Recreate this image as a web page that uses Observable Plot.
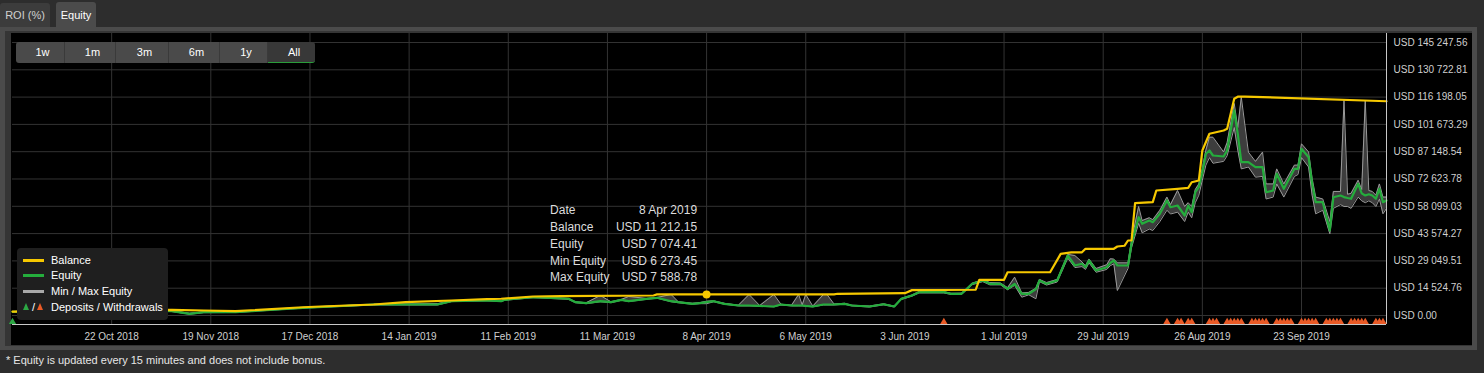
<!DOCTYPE html>
<html><head><meta charset="utf-8">
<script src="https://cdn.jsdelivr.net/npm/d3@7"></script>
<script src="https://cdn.jsdelivr.net/npm/@observablehq/plot@0.6"></script>
<style>
body{margin:0;width:1484px;height:373px;background:#2d2d2d;position:relative;overflow:hidden;font-family:"Liberation Sans",Arial,Helvetica,sans-serif;}
.tab{position:absolute;top:3px;height:24px;font-size:11px;display:flex;align-items:center;justify-content:center;border-radius:3px 3px 0 0;}
#panel{position:absolute;left:0;top:27px;width:1477px;height:323px;background:#4b4b4b;}
#inner{position:absolute;left:5px;top:4px;width:1467px;height:315px;background:#353535;}
#chart{position:absolute;left:11px;top:33px;width:1461px;height:312px;background:#000;}
#buttons{position:absolute;left:16px;top:42px;height:21px;display:flex;}
#buttons div{height:21px;line-height:21px;font-size:11px;color:#fff;background:#4a4a4a;text-align:center;box-sizing:border-box;padding-left:5px;border-right:1px solid #3a3a3a;}
#legend{position:absolute;left:17px;top:248px;width:151px;height:72px;box-sizing:border-box;padding-top:5px;background:#1f1f1f;border-radius:4px;color:#fff;font-size:11px;}
#legend .row{position:relative;}
#legend .sw{position:absolute;left:6px;width:21px;height:3px;}
#legend .lbl{position:absolute;left:34px;}
#tip{position:absolute;color:#dcdcdc;font-size:12px;width:147px;}
#tip .r{display:flex;justify-content:space-between;height:16.75px;line-height:16.75px;}
#footer{position:absolute;left:6px;top:354px;font-size:11px;color:#e6e6e6;}
</style></head><body>
<div class="tab" style="left:0;width:50px;background:#3c3c3c;color:#d0d0d0;">ROI (%)</div>
<div class="tab" style="left:56px;width:40px;top:2px;height:25px;background:#4b4b4b;color:#fff;">Equity</div>
<div id="panel"><div id="inner"></div></div>
<div id="chart"></div>
<div id="buttons"></div>
<div id="legend"></div>
<div id="tip"></div>
<div id="footer">* Equity is updated every 15 minutes and does not include bonus.</div>
<script>
// ---------------- DATA ----------------
const balanceDates = ["2018-09-24","2018-10-15","2018-11-08","2018-11-17","2018-11-26","2018-12-15","2018-12-20","2019-01-04","2019-01-13","2019-01-26","2019-02-05","2019-02-09","2019-02-18","2019-02-26","2019-03-24","2019-03-25","2019-05-14","2019-05-15","2019-06-03","2019-06-05","2019-06-23","2019-06-24","2019-07-01","2019-07-02","2019-07-14","2019-07-17","2019-07-20","2019-07-23","2019-07-24","2019-08-01","2019-08-02","2019-08-04","2019-08-05","2019-08-06","2019-08-07","2019-08-12","2019-08-13","2019-08-19","2019-08-22","2019-08-23","2019-08-25","2019-08-26","2019-08-28","2019-09-01","2019-09-02","2019-09-03","2019-09-04","2019-09-05","2019-09-07","2019-10-17"];
const balanceValues = [2100,2800,3030,2660,2290,4400,4790,5850,7080,7980,8690,8900,10100,10270,10640,11212.15,11212.15,11550,11860,13500,13700,19000,19000,23000,23000,32800,33600,33600,35500,35500,36700,37100,39900,39900,59750,60300,66500,67400,67900,70900,71800,87800,96700,98400,99300,107300,115300,116400,116500,114000];

const equityDates = ["2018-09-24","2018-10-10","2018-10-30","2018-11-08","2018-11-13","2018-11-17","2018-11-26","2018-12-15","2019-01-04","2019-01-22","2019-01-26","2019-02-05","2019-02-09","2019-02-10","2019-02-18","2019-02-28","2019-03-02","2019-03-05","2019-03-09","2019-03-12","2019-03-15","2019-03-17","2019-03-22","2019-03-25","2019-03-29","2019-03-31","2019-04-04","2019-04-06","2019-04-08","2019-04-10","2019-04-13","2019-04-17","2019-04-20","2019-04-23","2019-04-27","2019-04-29","2019-05-02","2019-05-04","2019-05-05","2019-05-06","2019-05-08","2019-05-11","2019-05-12","2019-05-14","2019-05-17","2019-05-19","2019-05-24","2019-05-28","2019-05-31","2019-06-02","2019-06-05","2019-06-07","2019-06-14","2019-06-16","2019-06-19","2019-06-21","2019-06-22","2019-06-25","2019-06-27","2019-06-30","2019-07-02","2019-07-04","2019-07-06","2019-07-08","2019-07-10","2019-07-11","2019-07-13","2019-07-16","2019-07-19","2019-07-21","2019-07-23","2019-07-24","2019-07-25","2019-07-27","2019-07-30","2019-07-31","2019-08-01","2019-08-02","2019-08-05","2019-08-06","2019-08-08","2019-08-09","2019-08-11","2019-08-12","2019-08-14","2019-08-16","2019-08-17","2019-08-19","2019-08-21","2019-08-22","2019-08-23","2019-08-24","2019-08-25","2019-08-26","2019-08-27","2019-08-28","2019-08-29","2019-09-01","2019-09-02","2019-09-04","2019-09-05","2019-09-06","2019-09-08","2019-09-10","2019-09-12","2019-09-13","2019-09-15","2019-09-16","2019-09-18","2019-09-21","2019-09-22","2019-09-23","2019-09-25","2019-09-26","2019-09-27","2019-09-29","2019-10-01","2019-10-02","2019-10-04","2019-10-05","2019-10-06","2019-10-07","2019-10-09","2019-10-10","2019-10-11","2019-10-12","2019-10-13","2019-10-14","2019-10-15","2019-10-16","2019-10-17"];
const equityValues = [2000,2300,2600,2300,900,1770,1770,4100,5850,5850,7630,7980,7630,8350,9740,8900,7080,6540,7610,7080,8350,7610,8890,9420,7610,7080,6220,6540,7074.41,7610,6220,5320,5320,5100,4790,5850,5320,5320,5320,5100,4790,5850,5850,5850,6220,5320,4790,6000,4790,8890,10640,12400,12400,11550,11550,15060,16870,18620,16870,16870,14200,16870,11550,11550,14000,18620,16870,18620,31920,26600,27510,25700,29260,23940,25700,28000,29260,26600,26600,38150,52300,48790,50540,49640,54110,61180,57620,58520,53200,58520,54960,65600,68260,76240,86030,87790,85130,84590,87790,109070,96670,81560,81560,78900,78900,65600,66500,75390,67410,78050,78050,88690,84220,70070,60280,60280,45220,62940,63840,63000,62500,62090,70070,65000,63840,64500,63840,62090,67410,60280,61180];
const minEquityValues = [1800,2100,2400,2100,700,1500,1600,3900,5600,5600,7400,7800,7400,8100,9500,8600,6800,6300,7300,6800,8100,7400,8600,9200,7300,6800,6000,6300,6273.45,7300,6000,5100,5100,4900,4600,5600,5100,5100,5100,4900,4600,5600,5600,5600,6000,5100,4500,5700,4500,8500,10300,12000,12000,11200,11200,14600,16400,18000,16300,16300,13700,16000,9740,11000,8890,18000,16200,17800,30500,25500,26000,24500,28000,23000,24500,26500,27500,13300,25000,36000,49000,44000,46000,45220,50000,56000,54000,55000,50000,55000,52000,60000,64000,72000,80000,84000,81000,82000,85000,100000,88000,78000,79000,73580,74000,62000,63000,70000,63000,74000,75000,84000,79000,64000,54110,56000,43470,57000,59000,58000,58000,57000,63000,61000,60000,61000,60000,58000,62000,54110,57000];
const maxEquityValues = [2100,2500,2800,2500,1200,1900,2000,4300,6000,6300,7900,8200,7900,8500,9900,9100,7300,6800,10640,7300,8600,10100,9100,9600,11170,7300,6500,6800,7588.78,7800,6500,5500,11170,5300,11170,6000,5500,11170,5600,11170,5000,11170,11170,6100,6500,5500,5000,6200,5000,9100,10900,12700,12700,11800,11900,15400,17200,19000,17500,17300,14800,20380,12000,12300,14500,19200,17500,19200,32500,31920,28500,26500,30000,25000,27000,30170,30000,28000,28000,40000,58000,50500,52000,51000,56000,63000,59000,66500,58000,60000,58000,67000,70000,78000,88000,94860,94860,87000,92000,112800,100000,116150,86900,82000,86900,70000,70000,78000,70000,80000,80000,91350,87000,73000,63000,62000,50000,66000,66000,114500,64500,65000,72000,67000,114500,66500,66000,64000,70000,63000,63000];

const depositDates = ["2018-09-24"];
const withdrawalDates = ["2019-06-14","2019-08-16","2019-08-19","2019-08-20","2019-08-22","2019-08-23","2019-08-28","2019-08-29","2019-08-30","2019-09-02","2019-09-03","2019-09-04","2019-09-05","2019-09-06","2019-09-09","2019-09-10","2019-09-11","2019-09-12","2019-09-13","2019-09-16","2019-09-17","2019-09-18","2019-09-19","2019-09-20","2019-09-23","2019-09-24","2019-09-25","2019-09-26","2019-09-27","2019-09-30","2019-10-01","2019-10-02","2019-10-03","2019-10-04","2019-10-07","2019-10-08","2019-10-09","2019-10-10","2019-10-11","2019-10-14","2019-10-15","2019-10-16"];

const xDomain = ["2018-09-24","2019-10-17"];
const xTickDates = ["2018-10-22","2018-11-19","2018-12-17","2019-01-14","2019-02-11","2019-03-11","2019-04-08","2019-05-06","2019-06-03","2019-07-01","2019-07-29","2019-08-26","2019-09-23"];
const yDomain = [-4788, 150035];
const yTickValues = [0,14524.76,29049.51,43574.27,58099.03,72623.78,87148.54,101673.29,116198.05,130722.81,145247.56];

const rangeButtons = ["1w","1m","3m","6m","1y","All"];
const tipDate = "2019-04-08";
const tipLabels = ["Date","Balance","Equity","Min Equity","Max Equity"];
const tipValues = [11212.15, 7074.41, 6273.45, 7588.78];

// ---------------- BUILD ----------------
const P = s => new Date(s + "T00:00:00Z");
const balance = balanceDates.map((d,i)=>({date:P(d), value:balanceValues[i]}));
const equity = equityDates.map((d,i)=>({date:P(d), value:equityValues[i], min:minEquityValues[i], max:maxEquityValues[i]}));
const loc = d3.formatLocale({decimal:".", thousands:" ", grouping:[3], currency:["",""]});
const num = loc.format(",.2f");
const usd = v => "USD " + num(v);
const dateFmt = d3.utcFormat("%-d %b %Y");

const C = {balance:"#f6c800", equity:"#24ad3c", minmax:"#9a9a9a", band:"#3d3d3d", grid:"#333", axis:"#c8c8c8", dep:"#2ca844", wd:"#ea5a26"};

const chart = Plot.plot({
  width:1461, height:312,
  marginLeft:1, marginRight:86, marginTop:0, marginBottom:21,
  style:{background:"#000", color:"#cfcfcf", fontFamily:'"Liberation Sans",Arial,sans-serif', fontSize:"10px", overflow:"visible"},
  x:{type:"utc", domain:xDomain.map(P), ticks:xTickDates.map(P), tickFormat:dateFmt, tickSize:0, tickPadding:8, label:null},
  y:{domain:yDomain, ticks:yTickValues, tickFormat:usd, axis:"right", tickSize:0, tickPadding:7, label:null},
  marks:[
    Plot.ruleY(yTickValues, {stroke:C.grid, strokeWidth:1}),
    Plot.ruleX(xTickDates.map(P), {stroke:C.grid, strokeWidth:1}),
    Plot.areaY(equity, {x:"date", y1:"min", y2:"max", fill:C.band}),
    Plot.line(equity, {x:"date", y:"min", stroke:C.minmax, strokeWidth:1}),
    Plot.line(equity, {x:"date", y:"max", stroke:C.minmax, strokeWidth:1}),
    Plot.line(equity, {x:"date", y:"value", stroke:C.equity, strokeWidth:2.2}),
    Plot.line(balance, {x:"date", y:"value", stroke:C.balance, strokeWidth:2.2}),
    Plot.ruleY([yDomain[0]], {stroke:C.axis, strokeWidth:1}),
    Plot.ruleX([P(xDomain[1])], {stroke:C.axis, strokeWidth:1}),
    Plot.dot(withdrawalDates.map(P), {x:d=>d, frameAnchor:"bottom", dy:-2.6, symbol:"triangle", r:2.7, fill:C.wd}),
    Plot.dot(depositDates.map(P), {x:d=>d, frameAnchor:"bottom", dy:-2.6, symbol:"triangle", r:2.7, fill:C.dep}),
    Plot.dot([tipDate], {x:d=>P(d), y:()=>tipValues[0], r:4, fill:C.balance})
  ]
});
document.getElementById("chart").appendChild(chart);

// range selector buttons
const widths = [49,51,53,51,48,47];
const bdiv = document.getElementById("buttons");
rangeButtons.forEach((b,i)=>{
  const el = document.createElement("div");
  el.textContent = b;
  el.style.width = widths[i] + "px";
  if (i===0) el.style.borderRadius = "3px 0 0 3px";
  if (i===rangeButtons.length-1){ el.style.borderRadius = "0 3px 3px 0"; el.style.background="#383838"; el.style.borderRight="none"; el.style.borderBottom="1px solid #2a9d3a"; }
  bdiv.appendChild(el);
});

// legend
const leg = document.getElementById("legend");
const rows = [["Balance",C.balance,14],["Equity",C.equity,16],["Min / Max Equity","#a8a8a8",16],["Deposits / Withdrawals",null,16]];
rows.forEach(([t,col,h])=>{
  const r = document.createElement("div"); r.className="row"; r.style.height=h+"px";
  if (col){
    const s=document.createElement("div"); s.className="sw"; s.style.background=col; s.style.top=(h/2-1.5)+"px"; r.appendChild(s);
  } else {
    const mk=(c,l)=>{const tr=document.createElement("div");tr.style.cssText=`position:absolute;left:${l}px;top:${h/2-4}px;width:0;height:0;border-left:3.5px solid transparent;border-right:3.5px solid transparent;border-bottom:7px solid ${c};`;return tr;};
    r.appendChild(mk(C.dep,6));
    const sl=document.createElement("div"); sl.textContent="/"; sl.style.cssText=`position:absolute;left:15px;top:${h/2-7}px;line-height:14px;`; r.appendChild(sl);
    r.appendChild(mk(C.wd,20));
  }
  const l=document.createElement("div"); l.className="lbl"; l.textContent=t; l.style.lineHeight=h+"px"; l.style.top="0px"; r.appendChild(l);
  leg.appendChild(r);
});

// tooltip
const sx = chart.scale("x"), sy = chart.scale("y");
const px = 11 + sx.apply(P(tipDate)), py = 33 + sy.apply(tipValues[0]);
const tip = document.getElementById("tip");
tip.style.left = (px - 156) + "px";
tip.style.top = (py - 91.5) + "px";
const tipTexts = [dateFmt(P(tipDate)), ...tipValues.map(usd)];
tipLabels.forEach((lab,i)=>{
  const r=document.createElement("div"); r.className="r";
  r.innerHTML = `<span>${lab}</span><span>${tipTexts[i]}</span>`;
  tip.appendChild(r);
});
</script>
</body></html>
